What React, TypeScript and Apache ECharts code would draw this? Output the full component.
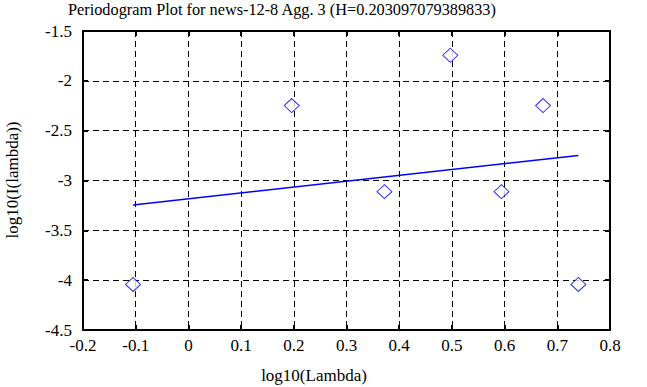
import React, { useEffect, useRef } from "react";
import * as echarts from "echarts";

const logLambda = [-0.105, 0.196, 0.372, 0.497, 0.594, 0.673, 0.74];
const logI = [-4.043, -2.248, -3.112, -1.743, -3.112, -2.248, -4.043];
const fitX = [-0.105, 0.74];
const fitY = [-3.245, -2.748];
const titleText = "Periodogram Plot for news-12-8 Agg. 3 (H=0.203097079389833)";
const xName = "log10(Lambda)";
const yName = "log10(I(lambda))";

const FONT = '"Liberation Serif", "DejaVu Serif", serif';

export default function App() {
  const ref = useRef<HTMLDivElement>(null);
  useEffect(() => {
    if (!ref.current) return;
    const chart = echarts.init(ref.current, null, { renderer: "svg" });
    const axisCommon = {
      type: "value" as const,
      axisLine: { show: true, onZero: false, lineStyle: { color: "#000", width: 2 } },
      axisTick: { show: true, inside: true, length: 5, lineStyle: { color: "#000", width: 2 } },
    };
    chart.setOption({
      animation: false,
      backgroundColor: "#fff",
      textStyle: { fontFamily: FONT },
      title: {
        text: titleText,
        left: 68,
        top: 1,
        padding: 0,
        textStyle: { fontFamily: FONT, fontSize: 16.3, fontWeight: "normal", color: "#000" },
      },
      grid: { left: 83, right: 37, top: 31, bottom: 57, containLabel: false },
      xAxis: [
        {
          ...axisCommon,
          position: "bottom",
          min: -0.2,
          max: 0.8,
          interval: 0.1,
          axisLabel: { color: "#000", fontSize: 17, fontFamily: FONT, margin: 7 },
          splitLine: { show: true, lineStyle: { color: "#000", type: [6, 4], width: 1 } },
        },
        {
          ...axisCommon,
          position: "top",
          min: -0.2,
          max: 0.8,
          interval: 0.1,
          axisLabel: { show: false },
          splitLine: { show: false },
        },
      ],
      yAxis: [
        {
          ...axisCommon,
          position: "left",
          min: -4.5,
          max: -1.5,
          interval: 0.5,
          axisLabel: { color: "#000", fontSize: 17, fontFamily: FONT, margin: 11 },
          splitLine: { show: true, lineStyle: { color: "#000", type: [6, 4], width: 1 } },
        },
        {
          ...axisCommon,
          position: "right",
          min: -4.5,
          max: -1.5,
          interval: 0.5,
          axisLabel: { show: false },
          splitLine: { show: false },
        },
      ],
      graphic: [
        {
          type: "text",
          x: 314,
          y: 375,
          style: {
            text: xName,
            fontSize: 17,
            fontFamily: FONT,
            fill: "#000",
            align: "center",
            verticalAlign: "middle",
          },
        },
        {
          type: "text",
          x: 12,
          y: 180,
          rotation: Math.PI / 2,
          style: {
            text: yName,
            fontSize: 17,
            fontFamily: FONT,
            fill: "#000",
            align: "center",
            verticalAlign: "middle",
          },
        },
      ],
      series: [
        {
          type: "line",
          data: fitX.map((x, i) => [x, fitY[i]]),
          symbol: "none",
          lineStyle: { color: "#0000ff", width: 1.5 },
          z: 3,
        },
        {
          type: "scatter",
          data: logLambda.map((x, i) => [x, logI[i]]),
          symbol: "diamond",
          symbolSize: [15, 14],
          itemStyle: { color: "#fff", borderColor: "#0000ff", borderWidth: 1 },
          z: 4,
        },
      ],
    });
    return () => chart.dispose();
  }, []);
  return <div ref={ref} style={{ width: 647, height: 387, position: "absolute", left: 0, top: 0 }} />;
}
